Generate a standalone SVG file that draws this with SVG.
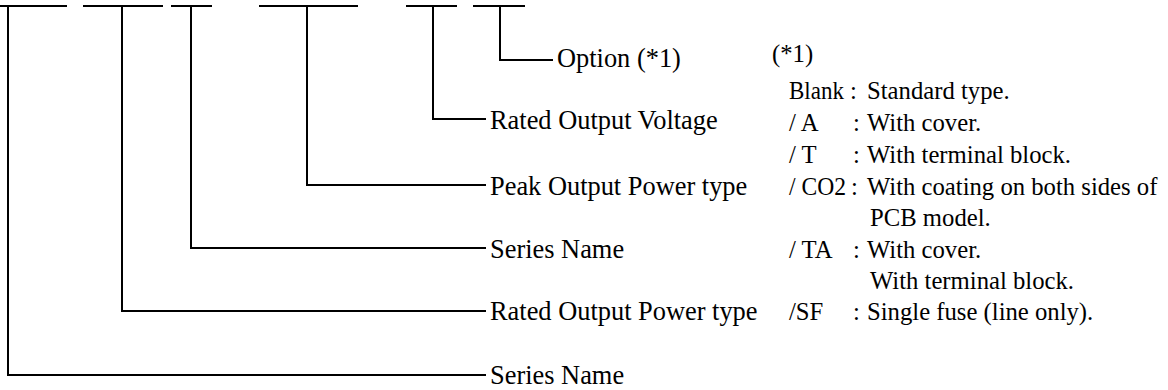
<svg xmlns="http://www.w3.org/2000/svg" width="1168" height="390" viewBox="0 0 1168 390">
<style>
text{font-family:"Liberation Serif","Times New Roman",serif;fill:#000}
.lbl{font-size:26.4px}
.leg{font-size:24.7px}
.bar{stroke:#000;stroke-width:2.2;fill:none}
.conn{stroke:#000;stroke-width:2;fill:none}
</style>
<rect width="1168" height="390" fill="#fff"/>
<g id="code-bars">
<line class="bar" x1="0" y1="6" x2="67" y2="6"/>
<line class="bar" x1="83" y1="6" x2="163" y2="6"/>
<line class="bar" x1="171" y1="6" x2="212" y2="6"/>
<line class="bar" x1="259" y1="6" x2="358" y2="6"/>
<line class="bar" x1="406" y1="6" x2="457" y2="6" stroke-width="2.8"/>
<line class="bar" x1="473" y1="6" x2="525" y2="6"/>
</g>
<g id="connectors">
<path class="conn" d="M500 6V60H553"/>
<path class="conn" d="M433 6V119H486"/>
<path class="conn" d="M307 6V185H486"/>
<path class="conn" d="M191 6V248H486"/>
<path class="conn" d="M122 6V311H486"/>
<path class="conn" d="M8 6V375H486"/>
</g>
<g id="label-option"><text class="lbl" x="557" y="67">Option (*1)</text></g>
<g id="label-rated-voltage"><text class="lbl" x="490" y="129">Rated Output Voltage</text></g>
<g id="label-peak-power"><text class="lbl" x="490" y="195">Peak Output Power type</text></g>
<g id="label-series-name-1"><text class="lbl" x="490" y="258">Series Name</text></g>
<g id="label-rated-power"><text class="lbl" x="490" y="320">Rated Output Power type</text></g>
<g id="label-series-name-2"><text class="lbl" x="490" y="384">Series Name</text></g>
<g id="option-legend">
<text class="leg" x="772" y="62">(*1)</text>
<text class="leg" x="789" y="99" textLength="55" lengthAdjust="spacingAndGlyphs">Blank</text><text class="leg" x="850" y="99">:</text><text class="leg" x="867" y="99">Standard type.</text>
<text class="leg" x="789" y="131">/ A</text><text class="leg" x="853" y="131">:</text><text class="leg" x="867" y="131">With cover.</text>
<text class="leg" x="789" y="163">/ T</text><text class="leg" x="853" y="163">:</text><text class="leg" x="867" y="163">With terminal block.</text>
<text class="leg" x="789" y="195" textLength="57" lengthAdjust="spacingAndGlyphs">/ CO2</text><text class="leg" x="851" y="195">:</text><text class="leg" x="867" y="195">With coating on both sides of</text>
<text class="leg" x="870" y="226">PCB model.</text>
<text class="leg" x="789" y="258">/ TA</text><text class="leg" x="853" y="258">:</text><text class="leg" x="867" y="258">With cover.</text>
<text class="leg" x="870" y="289">With terminal block.</text>
<text class="leg" x="789" y="320">/SF</text><text class="leg" x="853" y="320">:</text><text class="leg" x="867" y="320">Single fuse (line only).</text>
</g>
</svg>
